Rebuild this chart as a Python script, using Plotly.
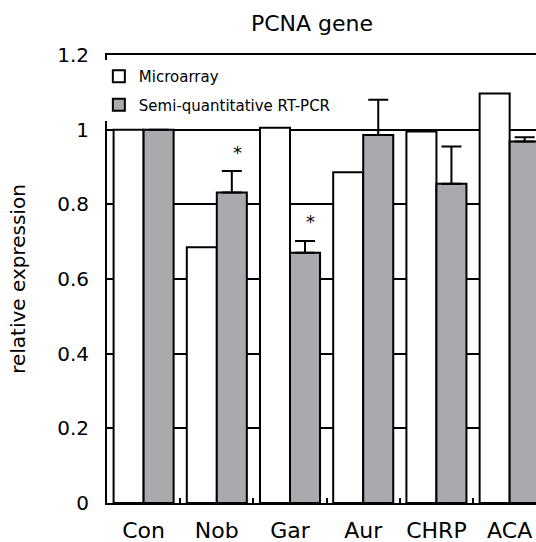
import plotly.graph_objects as go

categories = ["Con", "Nob", "Gar", "Aur", "CHRP", "ACA"]
microarray = [1.0, 0.685, 1.005, 0.886, 0.995, 1.097]
rtpcr = [1.0, 0.832, 0.670, 0.986, 0.855, 0.968]
rtpcr_err = [0.0, 0.057, 0.032, 0.094, 0.100, 0.012]
star_cats = [1, 2]
star_y = [0.94, 0.753]

FONT = "DejaVu Sans"
GRAY = "#a9aaae"

fig = go.Figure()
fig.add_trace(go.Bar(
    x=categories, y=microarray, name="Microarray",
    marker=dict(color="white", line=dict(color="black", width=2)),
    legendgroup="a",
))
fig.add_trace(go.Bar(
    x=categories, y=rtpcr, name="Semi-quantitative RT-PCR",
    marker=dict(color=GRAY, line=dict(color="black", width=2)),
    error_y=dict(type="data", symmetric=False, array=rtpcr_err,
                 arrayminus=[0] * len(rtpcr_err),
                 color="black", thickness=2, width=10),
    legendgroup="b",
))

for c, yv in zip(star_cats, star_y):
    fig.add_annotation(x=c + 0.28, y=yv, text="*", showarrow=False,
                       font=dict(family=FONT, size=18, color="black"))

fig.update_layout(
    width=536, height=542,
    margin=dict(l=107, r=0, t=55, b=39, autoexpand=False),
    paper_bgcolor="white", plot_bgcolor="white",
    barmode="group", bargap=0.18, bargroupgap=0,
    title=dict(text="PCNA gene", x=312 / 536, xanchor="center",
               y=1 - 23 / 542, yanchor="middle",
               font=dict(family=FONT, size=22, color="black")),
    legend=dict(x=-0.019, xanchor="left", y=1 - 5 / 448, yanchor="top",
                bgcolor="white", borderwidth=0,
                font=dict(family=FONT, size=15, color="black"),
                traceorder="grouped", tracegroupgap=6),
    showlegend=True,
)
fig.update_xaxes(
    type="category", range=[-0.5, 5.36], showgrid=False,
    showline=True, linecolor="black", linewidth=2, mirror=True,
    ticks="inside", tickson="boundaries", ticklen=5, tickwidth=2, tickcolor="black",
    tickangle=0, ticklabelstandoff=7,
    tickfont=dict(family=FONT, size=22, color="black"),
    automargin=False,
)
fig.update_yaxes(
    range=[0, 1.2],
    tickvals=[0, 0.2, 0.4, 0.6, 0.8, 1.0, 1.2],
    ticktext=["0", "0.2", "0.4", "0.6", "0.8", "1", "1.2"],
    showgrid=True, gridcolor="black", gridwidth=2,
    zeroline=False,
    showline=True, linecolor="black", linewidth=2,
    ticks="", ticklabelstandoff=12,
    tickfont=dict(family=FONT, size=20, color="black"),
    title=dict(text="relative expression", standoff=26,
               font=dict(family=FONT, size=20, color="black")),
    automargin=False,
)

fig.write_html("out.html")
